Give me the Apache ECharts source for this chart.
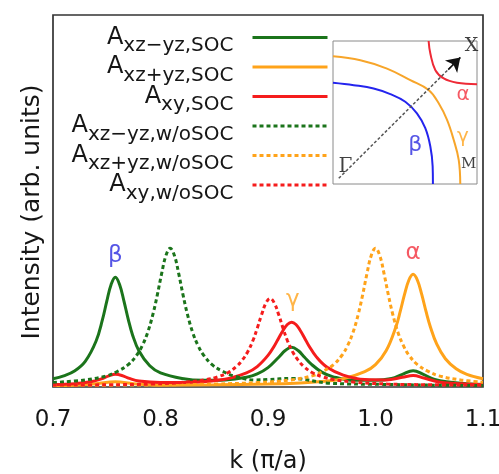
<!DOCTYPE html>
<html><head><meta charset="utf-8">
<script src="https://cdn.jsdelivr.net/npm/echarts@6/dist/echarts.min.js"></script>
<style>html,body{margin:0;padding:0;background:#fff}#c{width:499px;height:474px}</style>
</head><body><div id="c"></div>
<script>
// ---------- data ----------
const xTicks = ['0.7', '0.8', '0.9', '1.0', '1.1'];
const seriesNames = ['Axz\u2212yz,SOC', 'Axz+yz,SOC', 'Axy,SOC', 'Axz\u2212yz,w/oSOC', 'Axz+yz,w/oSOC', 'Axy,w/oSOC'];

const kGreenSOC = [0.70,0.71,0.72,0.73,0.74,0.746,0.75,0.754,0.758,0.762,0.766,0.77,0.774,0.78,0.79,0.80,0.82,0.84,0.86,0.88,0.89,0.90,0.91,0.916,0.922,0.928,0.934,0.94,0.95,0.96,0.98,1.00,1.015,1.025,1.035,1.045,1.055,1.07,1.085,1.10];
const vGreenSOC = [0.022,0.030,0.043,0.069,0.123,0.181,0.230,0.275,0.295,0.275,0.231,0.182,0.140,0.097,0.057,0.038,0.023,0.018,0.019,0.026,0.035,0.052,0.080,0.098,0.107,0.098,0.080,0.062,0.040,0.028,0.018,0.018,0.023,0.034,0.044,0.033,0.020,0.013,0.009,0.007];

const kOrangeSOC = [0.70,0.72,0.74,0.758,0.775,0.80,0.85,0.90,0.93,0.95,0.97,0.99,1.00,1.01,1.019,1.023,1.027,1.031,1.035,1.039,1.043,1.047,1.051,1.057,1.065,1.075,1.085,1.10];
const vOrangeSOC = [0.004,0.005,0.009,0.014,0.009,0.005,0.006,0.008,0.011,0.015,0.022,0.041,0.060,0.098,0.162,0.203,0.249,0.287,0.303,0.287,0.249,0.203,0.162,0.115,0.076,0.049,0.034,0.022];

const kRedSOC = [0.70,0.72,0.735,0.745,0.752,0.758,0.764,0.771,0.78,0.80,0.83,0.86,0.88,0.89,0.90,0.906,0.91,0.914,0.918,0.922,0.926,0.93,0.934,0.938,0.945,0.955,0.97,0.99,1.01,1.025,1.035,1.045,1.06,1.08,1.10];
const vRedSOC = [0.007,0.009,0.014,0.022,0.030,0.034,0.031,0.023,0.016,0.012,0.013,0.021,0.038,0.055,0.085,0.111,0.132,0.152,0.168,0.174,0.168,0.152,0.132,0.111,0.081,0.053,0.032,0.020,0.019,0.026,0.031,0.024,0.013,0.009,0.007];

const kGreenNoSOC = [0.70,0.73,0.75,0.76,0.77,0.778,0.783,0.788,0.793,0.797,0.801,0.805,0.809,0.813,0.817,0.821,0.825,0.83,0.835,0.84,0.848,0.858,0.868,0.888,0.90,0.922,0.958,1.008,1.05,1.10];
const vGreenNoSOC = [0.012,0.019,0.030,0.042,0.060,0.086,0.111,0.146,0.196,0.247,0.304,0.353,0.373,0.353,0.304,0.247,0.196,0.146,0.111,0.086,0.060,0.042,0.030,0.019,0.020,0.023,0.010,0.007,0.005,0.004];

const kOrangeNoSOC = [0.70,0.80,0.851,0.891,0.921,0.941,0.951,0.961,0.969,0.974,0.979,0.984,0.988,0.992,0.996,1.0,1.004,1.008,1.012,1.016,1.021,1.026,1.031,1.039,1.049,1.059,1.079,1.10];
const vOrangeNoSOC = [0.004,0.006,0.008,0.012,0.019,0.030,0.042,0.060,0.086,0.111,0.146,0.196,0.247,0.304,0.353,0.373,0.353,0.304,0.247,0.196,0.146,0.111,0.086,0.060,0.042,0.030,0.019,0.013];

const kRedNoSOC = [0.70,0.75,0.793,0.823,0.843,0.853,0.863,0.871,0.876,0.881,0.886,0.890,0.894,0.898,0.902,0.906,0.910,0.914,0.918,0.923,0.928,0.933,0.941,0.951,0.961,0.981,1.011,1.051,1.10];
const vRedNoSOC = [0.005,0.006,0.008,0.013,0.020,0.027,0.039,0.056,0.072,0.094,0.125,0.158,0.194,0.225,0.238,0.225,0.194,0.158,0.125,0.094,0.072,0.056,0.039,0.027,0.020,0.013,0.008,0.006,0.005];

// peak labels in the main panel
const peakNames = ['\u03b2', '\u03b3', '\u03b1'];
const peakK = [0.758, 0.923, 1.035];
const peakV = [0.352, 0.234, 0.36];

// inset (Fermi surface sketch), unit square coordinates
const betaU = [0, 0.144, 0.282, 0.398, 0.502, 0.583, 0.641, 0.676, 0.692, 0.694];
const betaV = [0.708, 0.691, 0.668, 0.629, 0.575, 0.494, 0.39, 0.262, 0.123, 0];
const gammaU = [0, 0.19, 0.375, 0.537, 0.664, 0.734, 0.792, 0.838, 0.873, 0.884];
const gammaV = [0.893, 0.865, 0.807, 0.726, 0.657, 0.564, 0.448, 0.309, 0.169, 0];
const alphaU = [0.664, 0.676, 0.711, 0.769, 0.861, 1];
const alphaV = [1, 0.912, 0.796, 0.738, 0.708, 0.698];
const pathU = [0.04, 0.884];
const pathV = [0.04, 0.884];
const insetNames = ['X', '\u0393', 'M', '\u03b1', '\u03b3', '\u03b2'];
const insetU = [0.962, 0.086, 0.942, 0.903, 0.903, 0.572];
const insetV = [0.965, 0.123, 0.142, 0.622, 0.332, 0.274];

// ---------- styling ----------
const FONT = 'DejaVu Sans';
const TXT = '#161616';
const GREEN = '#1b741b', ORANGE = '#ffa31a', RED = '#f51c1c';
const zip = (a, b) => a.map((x, i) => [x, b[i]]);

function curve(name, ks, vs, color, dashed) {
  return {
    name, type: 'line', xAxisIndex: 0, yAxisIndex: 0,
    data: zip(ks, vs), smooth: 0.4, showSymbol: false, symbol: 'none',
    lineStyle: { color, width: 3, type: dashed ? [4, 3] : 'solid' },
    itemStyle: { color }, z: 3
  };
}
function insetCurve(us, vs, color) {
  return {
    type: 'line', xAxisIndex: 1, yAxisIndex: 1, data: zip(us, vs),
    smooth: 0.4, showSymbol: false, symbol: 'none', silent: true,
    lineStyle: { color, width: 2 }, z: 5
  };
}

const peakColors = ['#2b2be0', ORANGE, '#f2303c'];
const insetColors = ['#111', '#111', '#111', '#f2303c', ORANGE, '#2b2be0'];
const insetSizes = [19, 20, 15, 20, 20, 22];
const insetFonts = ['DejaVu Serif', 'DejaVu Serif', 'DejaVu Serif', FONT, FONT, FONT];

const option = {
  animation: false,
  backgroundColor: '#fff',
  grid: [
    { left: 53, right: 16, top: 15, bottom: 87, show: true, borderColor: '#333', borderWidth: 1.7,
      backgroundColor: 'transparent', containLabel: false, outerBoundsMode: 'none' },
    { left: 333, top: 41, width: 144, height: 143, show: true, borderColor: '#8a8a8a', borderWidth: 1,
      backgroundColor: '#fff', z: 4, containLabel: false, outerBoundsMode: 'none' }
  ],
  xAxis: [
    { type: 'value', gridIndex: 0, min: 0.7, max: 1.1, interval: 0.1,
      axisLine: { show: false }, axisTick: { show: false }, splitLine: { show: false },
      axisLabel: { fontFamily: FONT, fontSize: 23, color: TXT, margin: 22,
        formatter: v => xTicks[Math.round((v - 0.7) * 10)] },
      name: 'k (\u03c0/a)', nameLocation: 'middle', nameGap: 63,
      nameTextStyle: { fontFamily: FONT, fontSize: 24, color: TXT } },
    { type: 'value', gridIndex: 1, min: 0, max: 1, show: false }
  ],
  yAxis: [
    { type: 'value', gridIndex: 0, min: 0, max: 1,
      axisLine: { show: false }, axisTick: { show: false }, splitLine: { show: false }, axisLabel: { show: false },
      name: 'Intensity (arb. units)', nameLocation: 'middle', nameGap: 8,
      nameTextStyle: { fontFamily: FONT, fontSize: 25, color: TXT, padding: [0, 22, 0, 0] } },
    { type: 'value', gridIndex: 1, min: 0, max: 1, show: false }
  ],
  legend: {
    data: seriesNames, orient: 'vertical', align: 'right', right: 165, top: 14,
    itemWidth: 75, itemHeight: 14, itemGap: -7.5, selectedMode: false,
    itemStyle: { opacity: 0 }, lineStyle: { width: 3 },
    formatter: name => '{a|A}{s|' + name.slice(1) + '}',
    textStyle: {
      color: TXT, fontFamily: FONT,
      rich: {
        a: { fontSize: 24, lineHeight: 22, fontFamily: FONT, color: TXT },
        s: { fontSize: 20, lineHeight: 14, padding: [17, 14, 0, 0], fontFamily: FONT, color: TXT }
      }
    }
  },
  series: [
    curve(seriesNames[0], kGreenSOC, vGreenSOC, GREEN, false),
    curve(seriesNames[1], kOrangeSOC, vOrangeSOC, ORANGE, false),
    curve(seriesNames[2], kRedSOC, vRedSOC, RED, false),
    curve(seriesNames[3], kGreenNoSOC, vGreenNoSOC, GREEN, true),
    curve(seriesNames[4], kOrangeNoSOC, vOrangeNoSOC, ORANGE, true),
    curve(seriesNames[5], kRedNoSOC, vRedNoSOC, RED, true),
    {
      type: 'scatter', xAxisIndex: 0, yAxisIndex: 0, symbolSize: 1, silent: true,
      itemStyle: { color: 'transparent' }, z: 6,
      data: peakNames.map((n, i) => ({ value: [peakK[i], peakV[i]], name: n,
        label: { color: peakColors[i] } })),
      label: { show: true, position: 'inside', formatter: p => p.name, fontFamily: FONT, fontSize: 23 }
    },
    insetCurve(betaU, betaV, '#2424ee'),
    insetCurve(gammaU, gammaV, '#f7a52a'),
    insetCurve(alphaU, alphaV, '#ee2a36'),
    {
      type: 'line', xAxisIndex: 1, yAxisIndex: 1, data: zip(pathU, pathV), showSymbol: false, symbol: 'none',
      silent: true, lineStyle: { color: '#555', width: 1.5, type: [3, 2] }, z: 5
    },
    {
      type: 'lines', coordinateSystem: 'cartesian2d', xAxisIndex: 1, yAxisIndex: 1, silent: true,
      symbol: ['none', 'arrow'], symbolSize: 13,
      lineStyle: { color: '#111', width: 1.5, opacity: 1 }, z: 6,
      data: [{ coords: [[0.80, 0.80], [pathU[1], pathV[1]]] }]
    },
    {
      type: 'scatter', xAxisIndex: 1, yAxisIndex: 1, symbolSize: 1, silent: true,
      itemStyle: { color: 'transparent' }, z: 7,
      data: insetNames.map((n, i) => ({ value: [insetU[i], insetV[i]], name: n,
        label: { color: insetColors[i], fontSize: insetSizes[i], fontFamily: insetFonts[i] } })),
      label: { show: true, position: 'inside', formatter: p => p.name }
    }
  ]
};
const chart = echarts.init(document.getElementById('c'));
chart.setOption(option);
</script></body></html>
